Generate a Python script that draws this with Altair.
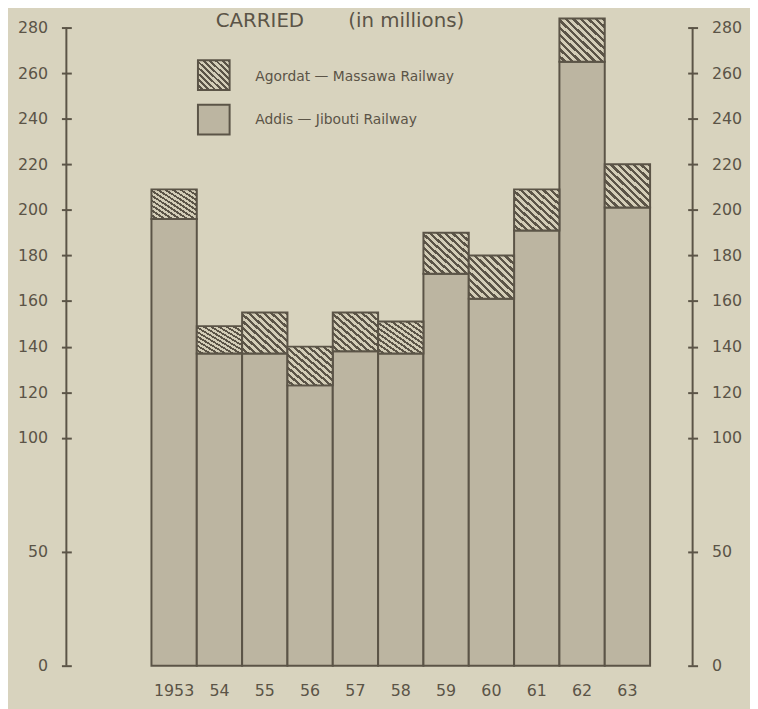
import altair as alt
import pandas as pd

# ---- data (millions) ----
years = ["1953", "54", "55", "56", "57", "58", "59", "60", "61", "62", "63"]
addis_jibouti = [196, 137, 137, 123, 138, 137, 172, 161, 191, 265, 201]
agordat_massawa = [13, 12, 18, 17, 17, 14, 18, 19, 18, 19, 19]
y_ticks = [0, 50, 100, 120, 140, 160, 180, 200, 220, 240, 260, 280]
legend_labels = ["Agordat — Massawa   Railway", "Addis — Jibouti   Railway"]

BG = "#d8d3be"
INK = "#5b5447"
STIPPLE = "#bcb5a1"
LIGHT = "#d3cdb7"

W, H = 633, 645

df = pd.DataFrame({"year": years, "addis": addis_jibouti, "agordat": agordat_massawa})


def hatch(n=12, dark=0.45):
    stops = []
    for k in range(n):
        a = k / n
        m = (k + 1 - dark) / n
        b = (k + 1) / n
        stops += [
            alt.GradientStop(offset=a, color=LIGHT),
            alt.GradientStop(offset=m, color=LIGHT),
            alt.GradientStop(offset=m, color=INK),
            alt.GradientStop(offset=b, color=INK),
        ]
    return alt.LinearGradient(gradient="linear", stops=stops, x1=0, y1=1, x2=1, y2=0)


FONT = "DejaVu Sans"
LBL = 16

xscale = alt.Scale(range=[86, 590], paddingInner=0, paddingOuter=0)
yscale = alt.Scale(domain=[0, 280], nice=False, zero=True)

base = alt.Chart(df)

x_enc = alt.X(
    "year:N", sort=years, scale=xscale, title=None,
    axis=alt.Axis(domain=False, ticks=False, labelAngle=0, labelPadding=17,
                  labelFontSize=LBL, labelColor=INK, labelFont=FONT),
)

addis_bars = base.mark_bar(fill=STIPPLE, stroke=INK, strokeWidth=2, clip=False).encode(
    x=x_enc,
    y=alt.Y("addis:Q", scale=yscale, title=None,
            axis=alt.Axis(orient="left", values=y_ticks, offset=-5, tickSize=10, tickWidth=2,
                          tickColor=INK, domain=False, grid=False, labelPadding=14,
                          labelFontSize=LBL, labelColor=INK, labelFont=FONT)),
    y2=alt.datum(0),
)

agordat_bars = base.transform_calculate(total="datum.addis + datum.agordat").mark_bar(
    fill=hatch(), stroke=INK, strokeWidth=2, clip=False
).encode(
    x=alt.X("year:N", sort=years, scale=xscale, axis=None),
    y=alt.Y("addis:Q", scale=yscale, title=None,
            axis=alt.Axis(orient="right", values=y_ticks, offset=-5, tickSize=10, tickWidth=2,
                          tickColor=INK, domain=False, grid=False, labelPadding=14,
                          labelFontSize=LBL, labelColor=INK, labelFont=FONT)),
    y2="total:Q",
)

one = pd.DataFrame({"k": [0]})

axis_lines = alt.Chart(pd.DataFrame({"side": [0, W]})).transform_calculate(
    lo="0", hi="280"
).mark_rule(color=INK, strokeWidth=2).encode(
    x=alt.X("side:Q", scale=alt.Scale(domain=[0, W], range=[0, W]), axis=None),
    y=alt.Y("lo:Q", scale=yscale, axis=None),
    y2="hi:Q",
)

title1 = alt.Chart(one).mark_text(text="CARRIED", font=FONT, fontSize=20,
                                  color=INK, align="left", baseline="middle").encode(
    x=alt.value(151), y=alt.value(-7))
title2 = alt.Chart(one).mark_text(text="(in millions)", font=FONT, fontSize=20,
                                  color=INK, align="left", baseline="middle").encode(
    x=alt.value(285), y=alt.value(-7))

sw1 = alt.Chart(one).mark_rect(fill=hatch(10, 0.45), stroke=INK, strokeWidth=2).encode(
    x=alt.value(133), x2=alt.value(165), y=alt.value(33), y2=alt.value(63))
sw2 = alt.Chart(one).mark_rect(fill=STIPPLE, stroke=INK, strokeWidth=2).encode(
    x=alt.value(133), x2=alt.value(165), y=alt.value(78), y2=alt.value(108))
lt1 = alt.Chart(one).mark_text(text=legend_labels[0], font=FONT, fontSize=14,
                               color=INK, align="left", baseline="middle").encode(
    x=alt.value(191), y=alt.value(50))
lt2 = alt.Chart(one).mark_text(text=legend_labels[1], font=FONT, fontSize=14,
                               color=INK, align="left", baseline="middle").encode(
    x=alt.value(191), y=alt.value(93))

chart = alt.layer(
    addis_bars, agordat_bars, axis_lines, title1, title2, sw1, sw2, lt1, lt2
).resolve_scale(y="independent", x="independent").properties(
    width=W, height=H,
    autosize=alt.AutoSizeParams(type="none"),
    padding={"left": 59, "top": 16, "right": 58, "bottom": 40},
    background=BG,
).configure_view(stroke=None)

chart.save("out.html", embed_options={"renderer": "svg", "actions": False})
